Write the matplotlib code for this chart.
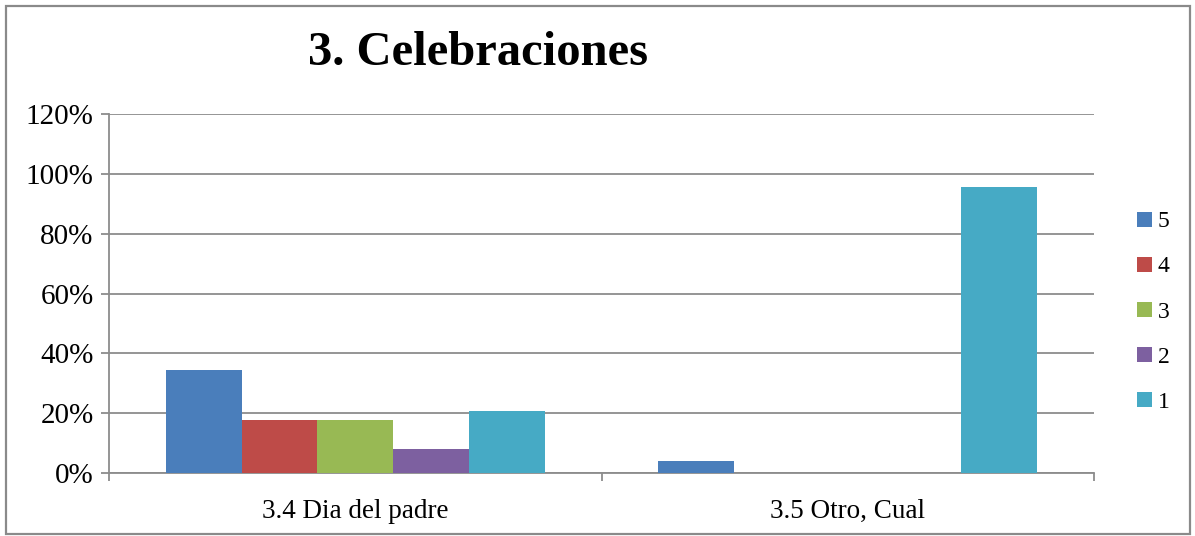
import matplotlib

matplotlib.use("Agg")

import matplotlib.pyplot as plt
import numpy as np
from matplotlib.patches import Rectangle
from matplotlib.ticker import FuncFormatter

plt.rcParams["font.family"] = ["Liberation Serif", "DejaVu Serif"]

categories = ["3.4 Dia del padre", "3.5 Otro, Cual"]
series_names = ["5", "4", "3", "2", "1"]
series_colors = ["#4A7EBB", "#BE4B48", "#98B954", "#7D60A0", "#46AAC5"]
values = {
    "5": [0.345, 0.041],
    "4": [0.178, 0.0],
    "3": [0.178, 0.0],
    "2": [0.081, 0.0],
    "1": [0.206, 0.956],
}
yticks = [0.0, 0.2, 0.4, 0.6, 0.8, 1.0, 1.2]

W, H = 1195, 536
fig = plt.figure(figsize=(W / 100, H / 100), dpi=100)
fig.patch.set_facecolor("white")

# outer chart frame
fig.patches.append(Rectangle((6 / W, 2 / H), 1184 / W, 528 / H, transform=fig.transFigure,
                             fill=False, edgecolor="#8A8A8A", linewidth=1.6))

ax = fig.add_axes([109 / W, 63 / H, 985 / W, 359 / H])

x = np.arange(len(categories))
bar_w = 1 / 6.5
for i, name in enumerate(series_names):
    offset = (i - (len(series_names) - 1) / 2) * bar_w
    ax.bar(x + offset, values[name], width=bar_w, color=series_colors[i],
           label=name, zorder=3, linewidth=0)

grid_color = "#8C8C8C"
ax.set_xlim(-0.5, len(categories) - 0.5)
ax.set_ylim(0, 1.2)
ax.set_yticks(yticks)
ax.yaxis.set_major_formatter(FuncFormatter(lambda v, _: f"{v * 100:.0f}%"))
ax.grid(axis="y", color=grid_color, linewidth=1.3, zorder=0)
ax.tick_params(axis="y", length=6, width=1.3, color=grid_color, labelsize=21, pad=5)

ax.set_xticks(x)
ax.set_xticklabels(categories)
ax.set_xticks(np.arange(-0.5, len(categories)), minor=True)
ax.tick_params(axis="x", which="major", length=0, labelsize=19.5, pad=19)
ax.tick_params(axis="x", which="minor", length=6, width=1.3, color=grid_color)

for side in ["top", "right"]:
    ax.spines[side].set_visible(False)
for side in ["left", "bottom"]:
    ax.spines[side].set_color(grid_color)
    ax.spines[side].set_linewidth(1.3)

ax.legend(loc="center left", bbox_to_anchor=(1128 / W, (H - 312) / H), bbox_transform=fig.transFigure,
          frameon=False, fontsize=17, handlelength=0.6, handleheight=0.6,
          handletextpad=0.25, labelspacing=1.02, borderaxespad=0)

fig.text(478 / W, (H - 53) / H, "3. Celebraciones", ha="center", va="center",
         fontsize=35, fontweight="bold")

fig.savefig("out.png", dpi=100)
